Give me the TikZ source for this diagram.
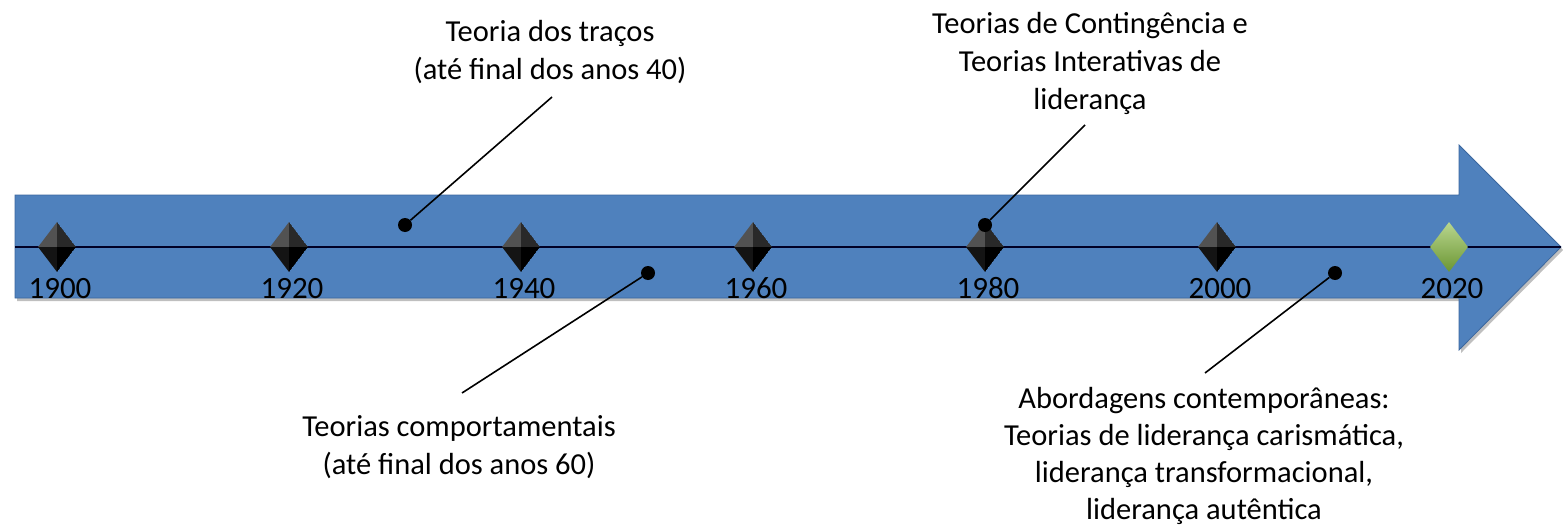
\documentclass[tikz,border=0pt]{standalone}
\usepackage{fontspec}
\setmainfont{Carlito}
\usetikzlibrary{positioning}
\usetikzlibrary{shapes.geometric}
\definecolor{timeblue}{HTML}{4F81BD}
\definecolor{timeedge}{HTML}{3B679E}
\definecolor{leaflight}{HTML}{B9D68E}
\definecolor{leafdark}{HTML}{6B9633}
\tikzset{
milestone/.style={ % black jewel on the time line
diamond, inner sep=0pt,
minimum width=38pt, minimum height=50pt,
path picture={
\fill[black!68] (path picture bounding box.north) -- (path picture bounding box.west) -- (path picture bounding box.center) -- cycle;
\fill[black!84] (path picture bounding box.north) -- (path picture bounding box.east) -- (path picture bounding box.center) -- cycle;
\fill[black!92] (path picture bounding box.south) -- (path picture bounding box.west) -- (path picture bounding box.center) -- cycle;
\fill[black] (path picture bounding box.south) -- (path picture bounding box.east) -- (path picture bounding box.center) -- cycle;
}},
nowstone/.style={ % the green one for today
diamond, inner sep=0pt,
minimum width=38pt, minimum height=50pt,
top color=leaflight, bottom color=leafdark},
year/.style={inner sep=0pt, text height=20pt, text depth=0pt,
font=\fontsize{31}{36}\selectfont},
callout/.style={align=center, inner sep=0pt,
font=\fontsize{30.5}{38}\selectfont},
pin/.style={circle, fill=black, inner sep=0pt, minimum size=14pt},
leader/.style={draw, line width=1.6pt}
}
\begin{document}
\begin{tikzpicture}[x=1pt, y=-1pt]
\useasboundingbox (0,0) rectangle (1563,527);
% the big arrow
\fill[black!25] (17,198) -- (1461,198) -- (1461,148) -- (1563,250) -- (1461,353) -- (1461,301) -- (17,301) -- cycle;
\filldraw[fill=timeblue, draw=timeedge, line width=0.8pt]
(15,195) -- (1459,195) -- (1459,145) -- (1561,247) -- (1459,350) -- (1459,298) -- (15,298) -- cycle;
\draw[black!85!blue, line width=1.2pt] (15,247) -- (1561,247);

% milestones
\node[milestone] (d1900) at (57,247) {};
\node[milestone] (d1920) at (289,247) {};
\node[milestone] (d1940) at (521,247) {};
\node[milestone] (d1960) at (753,247) {};
\node[milestone] (d1980) at (985,247) {};
\node[milestone] (d2000) at (1217,247) {};
\node[nowstone] (d2020) at (1449,247) {};

\node[year, below=6pt of d1900, xshift=3pt] (y1900) {1900};
\node[year, below=6pt of d1920, xshift=3pt] (y1920) {1920};
\node[year, below=6pt of d1940, xshift=3pt] (y1940) {1940};
\node[year, below=6pt of d1960, xshift=3pt] (y1960) {1960};
\node[year, below=6pt of d1980, xshift=3pt] (y1980) {1980};
\node[year, below=6pt of d2000, xshift=3pt] (y2000) {2000};
\node[year, below=6pt of d2020, xshift=3pt] (y2020) {2020};

% the theories
\node[callout] (traits) at (550,52) {Teoria dos traços\\(até final dos anos 40)};
\node[callout] (conting) at (1090,63) {Teorias de Contingência e\\Teorias Interativas de\\liderança};
\node[callout] (behav) at (459,447) {Teorias comportamentais\\(até final dos anos 60)};
\node[callout, font=\fontsize{30.5}{37}\selectfont] (modern) at (1204,456) {Abordagens contemporâneas:\\Teorias de liderança carismática,\\liderança transformacional,\\liderança autêntica};

\node[pin] (p1) at (405,225) {};
\node[pin] (p2) at (985,225) {};
\node[pin] (p3) at (648,273) {};
\node[pin] (p4) at (1335,273) {};

\coordinate (e1) at (552,97);
\coordinate (e2) at (1085,125);
\coordinate (e3) at (462,393);
\coordinate (e4) at (1205,373);

\draw[leader] (e1) -- (p1);
\draw[leader] (e2) -- (p2);
\draw[leader] (e3) -- (p3);
\draw[leader] (e4) -- (p4);
\end{tikzpicture}
\end{document}
